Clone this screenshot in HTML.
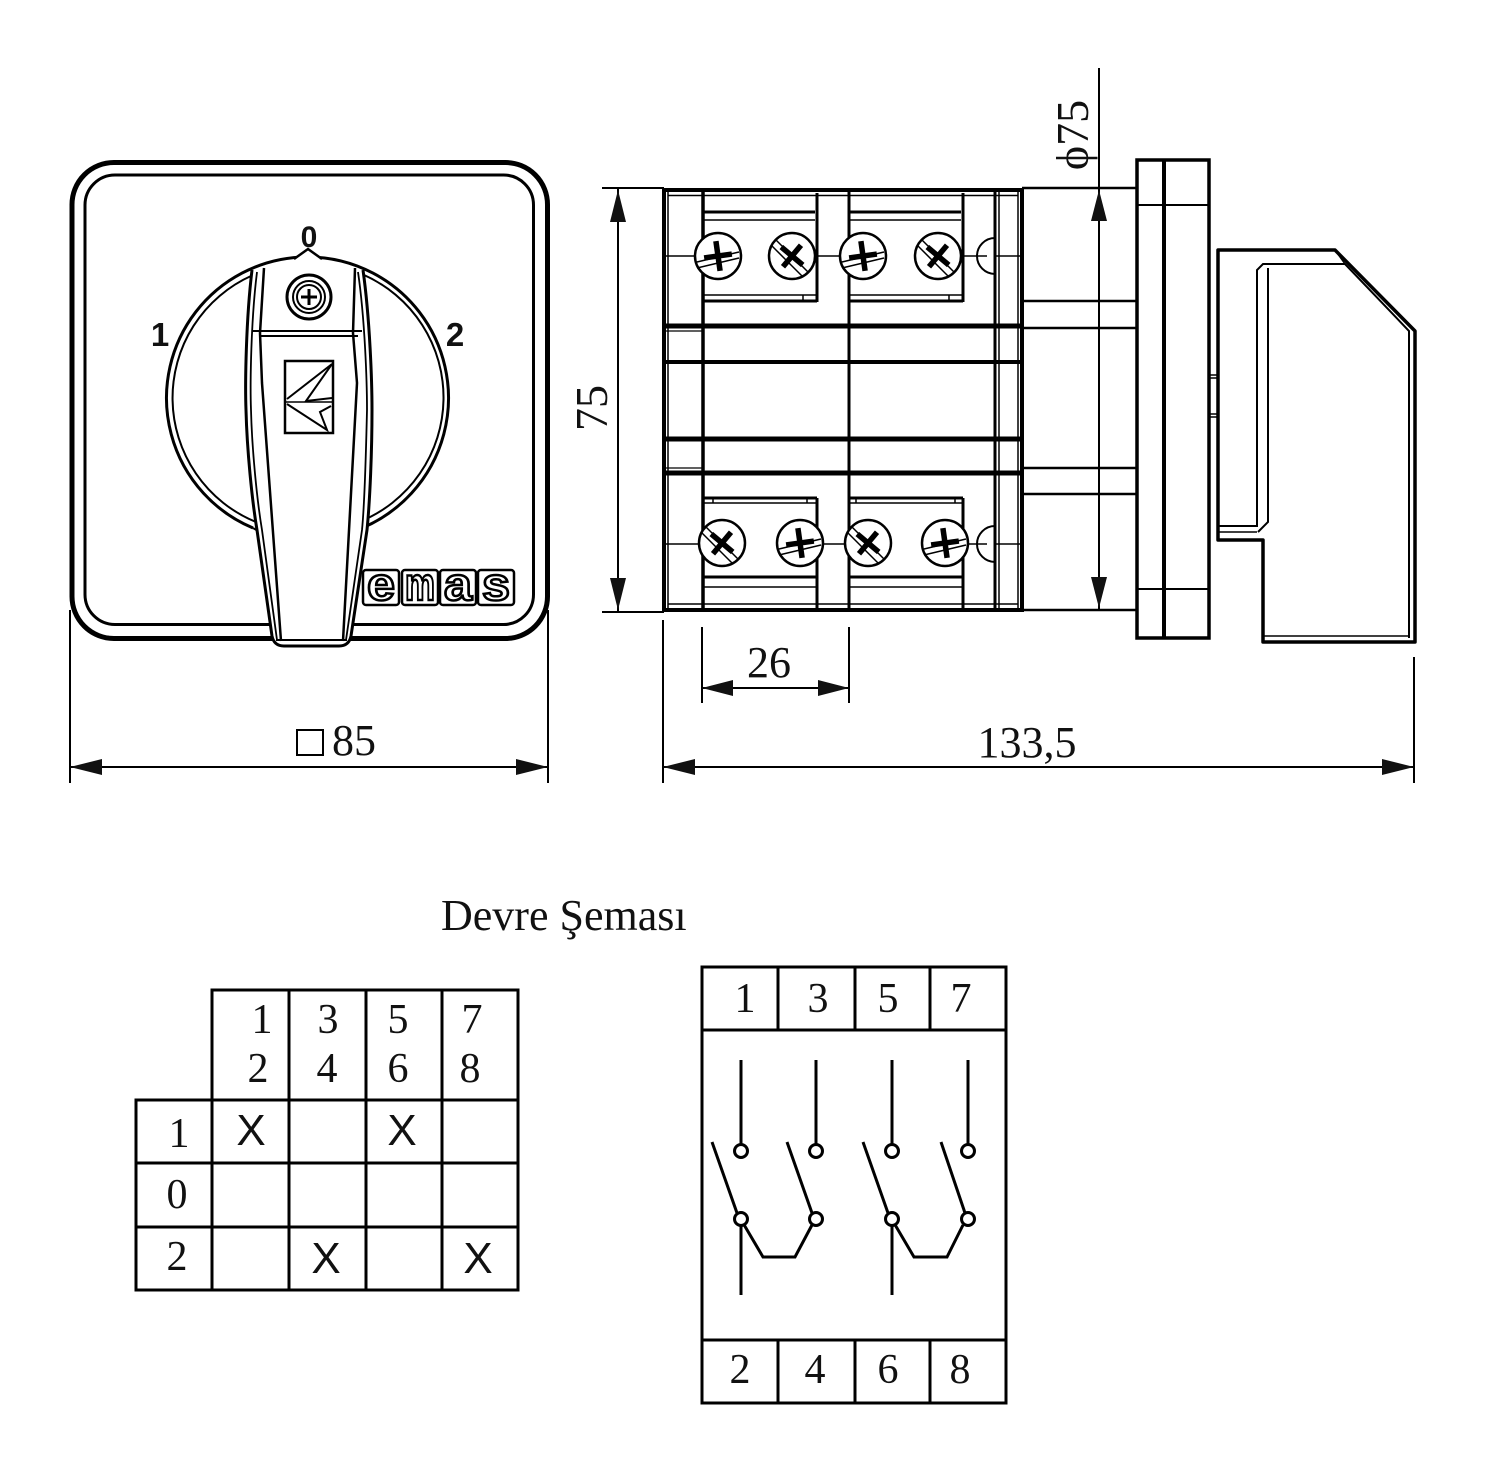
<!DOCTYPE html>
<html><head><meta charset="utf-8"><style>
html,body{margin:0;padding:0;background:#fff;}
svg{display:block;}
text{font-family:"Liberation Serif","DejaVu Serif",serif;fill:#111;}
.s{font-family:"Liberation Sans","DejaVu Sans",sans-serif;}
</style></head><body>
<svg width="1486" height="1474" viewBox="0 0 1486 1474" xmlns="http://www.w3.org/2000/svg">
<rect width="1486" height="1474" fill="#fff"/>
<g stroke="#000" fill="none" stroke-linecap="butt">
<!-- FRONT VIEW -->
<rect x="72" y="162.5" width="475.5" height="476" rx="42" stroke-width="5"/>
<rect x="85" y="175" width="448.5" height="449.5" rx="30" stroke-width="3"/>
<!-- knob circle -->
<path d="M253,528 A141,141 0 1 1 362,528" stroke-width="3"/>
<path d="M252,275.5 A134,134 0 0 0 256,522" stroke-width="2"/>
<path d="M363,274.6 A134,134 0 0 1 359,522" stroke-width="2"/>
<path d="M294,259 L308,249 L322,259" stroke-width="2.5" fill="#fff"/>
<!-- handle -->
<path d="M252,270 C246,320 245,383 246,410 C247,450 252,500 257,530 L272,636 Q274,646 284,646 L339,646 Q349,646 351,636 L367,530 C370,500 372,450 372,410 C372,383 370,320 363,270" stroke-width="3" fill="#fff"/>
<path d="M257,272 C251,320 250,383 251,410 C252,450 257,500 262,530 L277,640" stroke-width="1.8"/>
<path d="M358,272 C365,320 367,383 367,410 C366,450 365,500 362,530 L346,640" stroke-width="1.8"/>
<path d="M264,268 L260,333 L262,383 L281,641" stroke-width="2.5"/>
<path d="M355,268 L353,333 L357,383 L343,641" stroke-width="2.5"/>
<line x1="276" y1="640" x2="347" y2="640" stroke-width="2"/>
<line x1="253" y1="331" x2="362" y2="331" stroke-width="2"/>
<line x1="259" y1="336" x2="358" y2="336" stroke-width="2"/>
<path d="M253,528 L258,531" stroke-width="2"/>
<!-- handle screw -->
<circle cx="309" cy="297" r="22" stroke-width="3" fill="#fff"/>
<circle cx="309" cy="297" r="16" stroke-width="2"/>
<circle cx="309" cy="297" r="12" stroke-width="2"/>
<line x1="301" y1="297" x2="317" y2="297" stroke-width="3"/>
<line x1="309" y1="289" x2="309" y2="305" stroke-width="3"/>
<!-- logo on handle -->
<rect x="285" y="361" width="48" height="72" stroke-width="2.5"/>
<line x1="286" y1="402" x2="332" y2="402" stroke-width="1.5"/>
<polyline points="332,364 287,399" stroke-width="2"/>
<polyline points="332,364 306,401 332,398" stroke-width="2"/>
<polyline points="287,404 327,430 320,412 331,406" stroke-width="2"/>
<!-- emas logo boxes -->
<g stroke-width="2.5">
<rect x="363" y="570" width="36" height="35" rx="3"/>
<rect x="402" y="570" width="36" height="35" rx="3"/>
<rect x="440" y="570" width="36" height="35" rx="3"/>
<rect x="478" y="570" width="36" height="35" rx="3"/>
</g>
<!-- FRONT DIMENSION -->
<line x1="70" y1="610" x2="70" y2="783" stroke-width="2"/>
<line x1="548" y1="610" x2="548" y2="783" stroke-width="2"/>
<line x1="70" y1="767" x2="548" y2="767" stroke-width="2"/>
<rect x="297" y="730" width="26" height="25" stroke-width="2"/>

<!-- SIDE VIEW BODY -->
<rect x="664" y="190" width="358" height="420" stroke-width="4"/>
<line x1="668" y1="192" x2="668" y2="608" stroke-width="1.5"/>
<line x1="668" y1="195.5" x2="1018" y2="195.5" stroke-width="1.5"/>
<line x1="668" y1="604" x2="1018" y2="604" stroke-width="1.5"/>
<line x1="703" y1="190" x2="703" y2="610" stroke-width="3.5"/>
<line x1="849" y1="190" x2="849" y2="610" stroke-width="3"/>
<line x1="995" y1="190" x2="995" y2="610" stroke-width="3"/>
<line x1="999" y1="192" x2="999" y2="608" stroke-width="1.5"/>
<line x1="1018" y1="192" x2="1018" y2="608" stroke-width="1.5"/>
<line x1="664" y1="326" x2="1022" y2="326" stroke-width="5"/>
<line x1="664" y1="362" x2="1022" y2="362" stroke-width="4"/>
<line x1="664" y1="439" x2="1022" y2="439" stroke-width="5"/>
<line x1="664" y1="473" x2="1022" y2="473" stroke-width="5"/>
<line x1="664" y1="331" x2="703" y2="331" stroke-width="1.2"/>
<line x1="664" y1="468" x2="703" y2="468" stroke-width="1.2"/>
<!-- terminals -->
<g stroke-width="3">
<line x1="703" y1="212" x2="815" y2="212"/><line x1="817" y1="193" x2="817" y2="302"/><line x1="703" y1="301" x2="817" y2="301"/>
<line x1="850" y1="212" x2="961" y2="212"/><line x1="963" y1="193" x2="963" y2="302"/><line x1="850" y1="301" x2="963" y2="301"/>
<line x1="703" y1="498" x2="817" y2="498"/><line x1="817" y1="498" x2="817" y2="610"/><line x1="703" y1="577" x2="817" y2="577"/>
<line x1="850" y1="498" x2="963" y2="498"/><line x1="963" y1="498" x2="963" y2="610"/><line x1="850" y1="577" x2="963" y2="577"/>
</g>
<g stroke-width="1.5">
<line x1="703" y1="220" x2="815" y2="220"/><line x1="703" y1="295" x2="817" y2="295"/><line x1="803" y1="295" x2="803" y2="301"/>
<line x1="850" y1="220" x2="961" y2="220"/><line x1="850" y1="295" x2="963" y2="295"/><line x1="949" y1="295" x2="949" y2="301"/>
<line x1="703" y1="503" x2="817" y2="503"/><line x1="713" y1="498" x2="713" y2="503"/><line x1="807" y1="498" x2="807" y2="503"/>
<line x1="850" y1="503" x2="963" y2="503"/><line x1="856" y1="498" x2="856" y2="503"/><line x1="955" y1="498" x2="955" y2="503"/>
<line x1="703" y1="587" x2="817" y2="587"/><line x1="850" y1="587" x2="963" y2="587"/>
<line x1="664" y1="256" x2="695" y2="256"/><line x1="815" y1="256" x2="841" y2="256"/><line x1="961" y1="256" x2="987" y2="256"/><line x1="995" y1="256" x2="1022" y2="256"/>
<line x1="664" y1="544" x2="699" y2="544"/><line x1="822" y1="544" x2="845" y2="544"/><line x1="968" y1="544" x2="987" y2="544"/><line x1="995" y1="544" x2="1022" y2="544"/>
</g>
<path d="M995,238 A18,18 0 0 0 995,274" stroke-width="2"/>
<path d="M995,526 A18,18 0 0 0 995,562" stroke-width="2"/>
<!-- screws -->
<g stroke-width="2.5" fill="#fff">
<circle cx="718" cy="256" r="23"/><circle cx="792" cy="256" r="23"/><circle cx="863" cy="256" r="23"/><circle cx="938" cy="256" r="23"/>
<circle cx="722" cy="543" r="23"/><circle cx="800" cy="543" r="23"/><circle cx="868" cy="543" r="23"/><circle cx="945" cy="543" r="23"/>
</g>
<g stroke-width="1.5">
<line x1="697" y1="262" x2="739" y2="252"/><line x1="697" y1="268" x2="739" y2="258"/>
<line x1="776" y1="240" x2="808" y2="272"/><line x1="772" y1="246" x2="802" y2="276"/>
<line x1="842" y1="262" x2="884" y2="252"/><line x1="842" y1="268" x2="884" y2="258"/>
<line x1="922" y1="240" x2="954" y2="272"/><line x1="918" y1="246" x2="948" y2="276"/>
<line x1="706" y1="527" x2="738" y2="559"/><line x1="702" y1="533" x2="732" y2="563"/>
<line x1="779" y1="549" x2="821" y2="539"/><line x1="779" y1="555" x2="821" y2="545"/>
<line x1="852" y1="527" x2="884" y2="559"/><line x1="848" y1="533" x2="878" y2="563"/>
<line x1="924" y1="549" x2="966" y2="539"/><line x1="924" y1="555" x2="966" y2="545"/>
</g>
<g stroke-width="5.5">
<g transform="rotate(-8 718 256)"><line x1="704" y1="256" x2="732" y2="256"/><line x1="718" y1="241" x2="718" y2="271"/></g>
<g transform="rotate(40 792 256)"><line x1="778" y1="256" x2="806" y2="256"/><line x1="792" y1="242" x2="792" y2="270"/></g>
<g transform="rotate(-8 863 256)"><line x1="849" y1="256" x2="877" y2="256"/><line x1="863" y1="241" x2="863" y2="271"/></g>
<g transform="rotate(40 938 256)"><line x1="924" y1="256" x2="952" y2="256"/><line x1="938" y1="242" x2="938" y2="270"/></g>
<g transform="rotate(40 722 543)"><line x1="708" y1="543" x2="736" y2="543"/><line x1="722" y1="529" x2="722" y2="557"/></g>
<g transform="rotate(-8 800 543)"><line x1="786" y1="543" x2="814" y2="543"/><line x1="800" y1="528" x2="800" y2="558"/></g>
<g transform="rotate(40 868 543)"><line x1="854" y1="543" x2="882" y2="543"/><line x1="868" y1="529" x2="868" y2="557"/></g>
<g transform="rotate(-8 945 543)"><line x1="931" y1="543" x2="959" y2="543"/><line x1="945" y1="528" x2="945" y2="558"/></g>
</g>
<!-- connector lines to flange -->
<g stroke-width="2.5">
<line x1="1022" y1="188" x2="1136" y2="188"/><line x1="1022" y1="301" x2="1136" y2="301"/><line x1="1022" y1="328" x2="1136" y2="328"/>
<line x1="1022" y1="468" x2="1136" y2="468"/><line x1="1022" y1="494" x2="1136" y2="494"/><line x1="1022" y1="610" x2="1136" y2="610"/>
</g>
<!-- flange -->
<rect x="1137" y="160" width="72" height="478" stroke-width="3.5"/>
<line x1="1164" y1="160" x2="1164" y2="638" stroke-width="4"/>
<line x1="1137" y1="205" x2="1209" y2="205" stroke-width="2"/>
<line x1="1137" y1="589" x2="1209" y2="589" stroke-width="2"/>
<!-- shaft -->
<g stroke-width="1.5"><line x1="1209" y1="375" x2="1218" y2="375"/><line x1="1209" y1="378" x2="1218" y2="378"/><line x1="1209" y1="414" x2="1218" y2="414"/><line x1="1209" y1="417" x2="1218" y2="417"/></g>
<!-- handle side profile -->
<path d="M1218,250 L1335,250 L1415,331 L1415,642 L1263,642 L1263,540 L1218,540 Z" stroke-width="3.5" stroke-linejoin="round"/>
<path d="M1218,526 L1257,526 L1257,270 L1263,264 L1345,264 L1409,331 L1409,638" stroke-width="2"/>
<path d="M1268,268 L1268,522 L1258,532" stroke-width="2"/>
<path d="M1218,532 L1257,532" stroke-width="1.5"/>
<path d="M1263,636 L1410,636" stroke-width="1.5"/>
<path d="M1335,250 L1345,264" stroke-width="1.5"/>
<!-- SIDE DIMENSIONS -->
<line x1="602" y1="188" x2="664" y2="188" stroke-width="2"/>
<line x1="602" y1="612" x2="664" y2="612" stroke-width="2"/>
<line x1="618" y1="188" x2="618" y2="612" stroke-width="2"/>
<line x1="1099" y1="68" x2="1099" y2="610" stroke-width="2"/>
<line x1="663" y1="620" x2="663" y2="783" stroke-width="2"/>
<line x1="1414" y1="657" x2="1414" y2="783" stroke-width="2"/>
<line x1="663" y1="767" x2="1414" y2="767" stroke-width="2"/>
<line x1="702" y1="627" x2="702" y2="703" stroke-width="2"/>
<line x1="849" y1="627" x2="849" y2="703" stroke-width="2"/>
<line x1="702" y1="688" x2="849" y2="688" stroke-width="2"/>
</g>
<!-- arrowheads -->
<g fill="#111" stroke="none">
<polygon points="70,767 102,759 102,775"/><polygon points="548,767 516,759 516,775"/>
<polygon points="663,767 695,759 695,775"/><polygon points="1414,767 1382,759 1382,775"/>
<polygon points="702,688 733,680 733,696"/><polygon points="849,688 818,680 818,696"/>
<polygon points="618,190 610,222 626,222"/><polygon points="618,610 610,578 626,578"/>
<polygon points="1099,190 1091,221 1107,221"/><polygon points="1099,608 1091,577 1107,577"/>
</g>
<!-- front texts -->
<text class="s" x="309" y="247" font-size="30" font-weight="bold" text-anchor="middle" fill="#000">0</text>
<text class="s" x="160" y="346" font-size="33" font-weight="bold" text-anchor="middle" fill="#000">1</text>
<text class="s" x="455" y="346" font-size="33" font-weight="bold" text-anchor="middle" fill="#000">2</text>
<g class="s" font-size="46" font-weight="bold" style="fill:#fff;stroke:#000;stroke-width:2.5" text-anchor="middle">
<text class="s" x="381" y="600" textLength="28" lengthAdjust="spacingAndGlyphs" style="fill:#fff;stroke:#000;stroke-width:2.5">e</text>
<text class="s" x="420" y="600" textLength="30" lengthAdjust="spacingAndGlyphs" style="fill:#fff;stroke:#000;stroke-width:2.5">m</text>
<text class="s" x="458" y="600" textLength="28" lengthAdjust="spacingAndGlyphs" style="fill:#fff;stroke:#000;stroke-width:2.5">a</text>
<text class="s" x="496" y="600" textLength="28" lengthAdjust="spacingAndGlyphs" style="fill:#fff;stroke:#000;stroke-width:2.5">s</text>
</g>
<text x="332" y="755" font-size="44">85</text>
<text x="769" y="677" font-size="44" text-anchor="middle">26</text>
<text x="1027" y="757" font-size="44" text-anchor="middle">133,5</text>
<text transform="translate(607,408) rotate(-90)" font-size="46" text-anchor="middle">75</text>
<text transform="translate(1088,135) rotate(-90)" font-size="46" text-anchor="middle">ϕ75</text>
<!-- TITLE -->
<text x="441" y="930" font-size="44">Devre Şeması</text>
<!-- TABLE -->
<g stroke="#000" stroke-width="3" fill="none">
<rect x="212" y="990" width="306" height="300"/>
<rect x="136" y="1100" width="76" height="190"/>
<line x1="289" y1="990" x2="289" y2="1290"/><line x1="366" y1="990" x2="366" y2="1290"/><line x1="442" y1="990" x2="442" y2="1290"/>
<line x1="136" y1="1100" x2="518" y2="1100"/><line x1="136" y1="1163" x2="518" y2="1163"/><line x1="136" y1="1227" x2="518" y2="1227"/>
</g>
<g font-size="42" text-anchor="middle">
<text x="262" y="1033">1</text><text x="328" y="1033">3</text><text x="398" y="1033">5</text><text x="472" y="1033">7</text>
<text x="258" y="1082">2</text><text x="327" y="1082">4</text><text x="398" y="1082">6</text><text x="470" y="1082">8</text>
<text x="179" y="1147">1</text><text x="177" y="1208">0</text><text x="177" y="1270">2</text>
</g>
<g class="s" font-size="44" text-anchor="middle">
<text class="s" x="251" y="1145">X</text><text class="s" x="402" y="1145">X</text>
<text class="s" x="326" y="1273">X</text><text class="s" x="478" y="1273">X</text>
</g>
<!-- SCHEMATIC -->
<g stroke="#000" stroke-width="3" fill="none">
<rect x="702" y="967" width="304" height="436"/>
<line x1="702" y1="1030" x2="1006" y2="1030"/><line x1="702" y1="1340" x2="1006" y2="1340"/>
<line x1="778" y1="967" x2="778" y2="1030"/><line x1="855" y1="967" x2="855" y2="1030"/><line x1="930" y1="967" x2="930" y2="1030"/>
<line x1="778" y1="1340" x2="778" y2="1403"/><line x1="855" y1="1340" x2="855" y2="1403"/><line x1="930" y1="1340" x2="930" y2="1403"/>
<line x1="741" y1="1060" x2="741" y2="1145"/><line x1="816" y1="1060" x2="816" y2="1145"/><line x1="892" y1="1060" x2="892" y2="1145"/><line x1="968" y1="1060" x2="968" y2="1145"/>
<line x1="712" y1="1142" x2="737" y2="1213"/><line x1="787" y1="1142" x2="812" y2="1213"/><line x1="863" y1="1142" x2="888" y2="1213"/><line x1="941" y1="1142" x2="965" y2="1213"/>
<line x1="741" y1="1225" x2="741" y2="1295"/><line x1="892" y1="1225" x2="892" y2="1295"/>
<polyline points="743,1223 763,1257 795,1257 812,1225"/>
<polyline points="894,1223 914,1257 947,1257 963,1225"/>
<g fill="#fff">
<circle cx="741" cy="1151" r="6.5"/><circle cx="816" cy="1151" r="6.5"/><circle cx="892" cy="1151" r="6.5"/><circle cx="968" cy="1151" r="6.5"/>
<circle cx="741" cy="1219" r="6.5"/><circle cx="816" cy="1219" r="6.5"/><circle cx="892" cy="1219" r="6.5"/><circle cx="968" cy="1219" r="6.5"/>
</g>
</g>
<g font-size="42" text-anchor="middle">
<text x="745" y="1012">1</text><text x="818" y="1012">3</text><text x="888" y="1012">5</text><text x="961" y="1012">7</text>
<text x="740" y="1383">2</text><text x="815" y="1383">4</text><text x="888" y="1383">6</text><text x="960" y="1383">8</text>
</g>
</svg>
</body></html>
